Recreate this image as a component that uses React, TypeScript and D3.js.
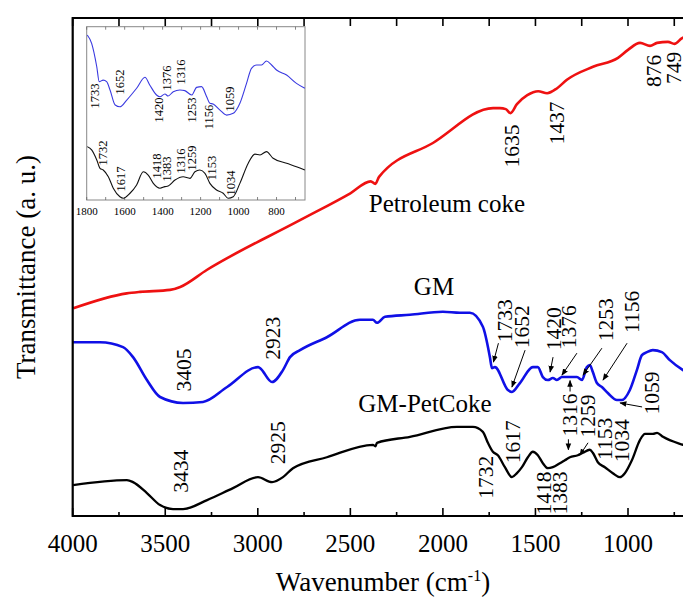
import React from "react";
import * as d3 from "d3";

// ---------- data (wavenumber cm-1, transmittance a.u.) ----------
const petcokeWn = [3997, 3708, 3636, 3474, 3419, 3276, 2772, 2500, 2390, 2365, 2345, 2054, 1729, 1692, 1660, 1635, 1600, 1544, 1485, 1437, 1383, 1330, 1189, 1054, 1000, 935, 881, 843, 784, 749, 706, 650];
const petcokeT = [41.7, 44.7, 45.0, 45.4, 46.0, 49.4, 59.4, 64.8, 67.2, 66.7, 68.1, 74.9, 81.9, 81.9, 81.7, 80.9, 82.7, 84.5, 85.3, 84.9, 85.9, 87.6, 90.2, 92.0, 93.6, 95.0, 94.4, 95.0, 95.2, 94.8, 96.0, 96.4];

const gmWn = [3998, 3853, 3728, 3674, 3599, 3528, 3404, 3296, 3166, 2999, 2988, 2923, 2864, 2826, 2772, 2627, 2448, 2378, 2356, 2313, 2178, 2000, 1908, 1854, 1784, 1746, 1735, 1719, 1649, 1627, 1584, 1514, 1487, 1460, 1433, 1406, 1384, 1357, 1314, 1276, 1249, 1222, 1206, 1190, 1168, 1141, 1109, 1060, 1033, 990, 952, 925, 898, 866, 817, 774, 703, 650];
const gmT = [34.9, 34.9, 33.9, 31.9, 27.3, 23.9, 22.7, 22.9, 25.9, 29.9, 29.7, 26.9, 29.3, 31.9, 33.3, 35.9, 39.4, 39.4, 38.8, 40.0, 40.4, 41.0, 40.8, 40.8, 38.0, 31.9, 29.7, 29.9, 25.3, 24.9, 26.7, 29.9, 29.9, 27.9, 27.3, 27.7, 27.3, 27.9, 27.9, 27.9, 27.3, 29.9, 30.3, 28.9, 26.7, 25.9, 24.7, 23.3, 23.3, 25.3, 29.3, 32.3, 32.9, 33.3, 32.9, 31.3, 29.3, 28.3];

const gmPcWn = [3998, 3707, 3674, 3599, 3528, 3458, 3404, 3274, 3134, 2999, 2923, 2864, 2810, 2627, 2378, 2365, 2356, 2178, 1924, 1838, 1784, 1757, 1730, 1703, 1665, 1627, 1600, 1573, 1541, 1514, 1487, 1460, 1433, 1406, 1368, 1341, 1314, 1271, 1244, 1206, 1190, 1163, 1125, 1082, 1044, 1017, 979, 935, 908, 865, 843, 811, 703, 650];
const gmPcT = [6.2, 7.2, 6.8, 4.6, 2.2, 1.4, 1.4, 3.2, 5.6, 7.8, 6.8, 7.8, 9.6, 11.8, 14.3, 14.0, 14.7, 15.9, 17.9, 17.9, 16.9, 14.7, 12.9, 12.2, 9.8, 7.8, 8.6, 9.8, 11.8, 12.9, 12.2, 10.6, 9.6, 9.8, 10.6, 11.2, 11.8, 12.2, 12.7, 13.3, 12.7, 10.8, 9.8, 8.6, 7.8, 8.6, 11.2, 15.3, 16.5, 16.5, 16.7, 15.9, 14.3, 13.7];

// inset (1800-650 cm-1)
const insetGmWn = [1797, 1774, 1747, 1734, 1713, 1695, 1677, 1650, 1625, 1589, 1537, 1493, 1468, 1432, 1414, 1388, 1371, 1344, 1309, 1283, 1247, 1221, 1195, 1168, 1151, 1134, 1098, 1063, 1028, 993, 958, 932, 905, 879, 853, 826, 800, 747, 695, 651];
const insetGmT = [95.2, 90.4, 76.9, 68.3, 69.2, 68.3, 63.5, 54.8, 53.8, 57.7, 64.5, 70.8, 66.4, 60.6, 59.6, 61.2, 60.0, 62.5, 63.5, 63.1, 60.6, 65.0, 65.4, 59.6, 55.8, 55.4, 51.9, 49.0, 50.0, 55.8, 67.3, 76.0, 77.9, 77.9, 80.2, 77.9, 75.0, 72.1, 67.3, 64.5];
const insetPcWn = [1797, 1774, 1747, 1730, 1713, 1686, 1660, 1625, 1607, 1572, 1537, 1502, 1476, 1449, 1414, 1388, 1371, 1335, 1292, 1256, 1230, 1204, 1177, 1151, 1116, 1081, 1055, 1028, 993, 949, 914, 887, 853, 818, 747, 695, 651];
const insetPcT = [30.8, 28.9, 23.1, 18.3, 17.3, 13.4, 6.8, 1.9, 1.0, 3.9, 8.7, 16.3, 14.4, 9.6, 6.8, 7.7, 8.1, 11.5, 13.4, 12.5, 16.3, 17.3, 15.4, 9.6, 5.8, 3.9, 1.0, 1.9, 9.6, 21.2, 26.5, 26.0, 27.9, 24.1, 21.2, 19.2, 17.3];

// tick values
const mainTickLabels = [4000, 3500, 3000, 2500, 2000, 1500, 1000];
const insetTickLabels = [1800, 1600, 1400, 1200, 1000, 800];

// peak labels: text, wavenumber position, transmittance position
const peakLabels: [string, number, number][] = [
  ["1635", 1624, 74.3], ["1437", 1384, 78.9], ["876", 862, 89.4], ["749", 753, 90.0],
  ["3405", 3398, 29.3], ["2923", 2918, 35.7], ["1733", 1665, 39.2], ["1652", 1573, 38.0],
  ["1420", 1400, 37.6], ["1376", 1319, 38.0], ["1253", 1119, 39.4], ["1156", 978, 41.0],
  ["1059", 870, 24.7],
  ["3434", 3415, 9.0], ["2925", 2891, 14.7], ["1732", 1767, 7.8], ["1617", 1621, 14.9],
  ["1418", 1454, 4.6], ["1383", 1368, 4.6], ["1316", 1313, 20.3], ["1259", 1216, 20.1],
  ["1153", 1124, 15.5], ["1034", 1032, 15.1],
];
// arrows: [wn from, T from, wn to, T to]
const peakArrows: [number, number, number, number][] = [
  [1700, 34.7, 1727, 30.9], [1556, 33.3, 1627, 25.9], [1405, 31.9, 1421, 28.9],
  [1276, 32.7, 1357, 28.3], [1141, 33.7, 1243, 28.3], [1005, 34.7, 1135, 27.3],
  [924, 21.9, 1043, 22.7], [1313, 25.0, 1313, 27.2], [1322, 15.4, 1322, 13.3],
  [1216, 14.7, 1260, 12.2],
];
const insetLabels: [string, number, number][] = [
  ["1733", 1756, 60.0], ["1652", 1625, 68.1], ["1420", 1419, 51.9], ["1376", 1377, 70.4],
  ["1316", 1305, 73.9], ["1253", 1247, 51.9], ["1156", 1156, 47.9], ["1059", 1046, 58.3],
  ["1732", 1716, 27.1], ["1617", 1621, 12.1], ["1418", 1432, 19.6], ["1383", 1376, 17.9],
  ["1316", 1305, 22.5], ["1259", 1247, 24.2], ["1153", 1142, 18.5], ["1034", 1042, 9.8],
];
const seriesNames: [string, number, number][] = [
  ["Petroleum coke", 1978, 61.0],
  ["GM", 2048, 44.4],
  ["GM-PetCoke", 2097, 20.9],
];

const W = 683, H = 601;
const FONT = "'Liberation Serif', 'Times New Roman', serif";

export default function App() {
  const L = 72.7, T = 18, B = 516;
  const x = d3.scaleLinear().domain([4000, 650]).range([L, L + 3350 * 0.1851]);
  const y = d3.scaleLinear().domain([0, 100]).range([B, T]);
  const ix = d3.scaleLinear().domain([1800, 650]).range([86.7, 305]);
  const iy = d3.scaleLinear().domain([0, 100]).range([200, 26.7]);

  const line = (wn: number[], t: number[], sx: any, sy: any) =>
    d3.line<number>().x((_, i) => sx(wn[i])).y((_, i) => sy(t[i])).curve(d3.curveMonotoneX)(wn.map((_, i) => i)) || "";

  const allTicks = d3.range(4000, 649, -250);
  const insetMinor = d3.range(1800, 649, -100);
  const xR = x.range()[1];

  return (
    <svg width={W} height={H} style={{ position: "absolute", left: 0, top: 0, background: "#fff" }} fontFamily={FONT}>
      <defs>
        <clipPath id="plot"><rect x={L} y={T} width={xR - L} height={B - T} /></clipPath>
        <marker id="ah" viewBox="0 0 10 10" refX="9" refY="5" markerWidth="7" markerHeight="7" orient="auto" markerUnits="userSpaceOnUse">
          <path d="M0,1 L10,5 L0,9 Z" fill="#000" />
        </marker>
      </defs>
      <rect x={0} y={0} width={W} height={H} fill="#fff" />

      {/* curves */}
      <g clipPath="url(#plot)" fill="none">
        <path d={line(petcokeWn, petcokeT, x, y)} stroke="#ee1111" strokeWidth={2.6} />
        <path d={line(gmWn, gmT, x, y)} stroke="#1010e6" strokeWidth={2.6} />
        <path d={line(gmPcWn, gmPcT, x, y)} stroke="#000" strokeWidth={2.3} />
      </g>

      {/* frame */}
      <path d={`M${xR},${T} H${L} V${B} H${xR}`} fill="none" stroke="#000" strokeWidth={2.2} />
      {allTicks.map((v) => {
        const major = v % 500 === 0;
        return (
          <g key={v}>
            <line x1={x(v)} x2={x(v)} y1={B} y2={B - (major ? 8 : 4)} stroke="#000" strokeWidth={1.6} />
            <line x1={x(v)} x2={x(v)} y1={T} y2={T + 8} stroke="#000" strokeWidth={1.6} />
          </g>
        );
      })}
      {mainTickLabels.map((v) => (
        <text key={v} x={x(v)} y={552} fontSize={25} textAnchor="middle">{v}</text>
      ))}
      <text x={383} y={591} fontSize={27} textAnchor="middle">
        Wavenumber (cm<tspan dy={-10} fontSize={16}>-1</tspan><tspan dy={10}>)</tspan>
      </text>
      <text transform={`translate(35,${(T + B) / 2}) rotate(-90)`} fontSize={27} textAnchor="middle">Transmittance (a. u.)</text>

      {/* peak labels */}
      {peakLabels.map(([t, wn, v], i) => (
        <text key={i} transform={`translate(${x(wn)},${y(v)}) rotate(-90)`} fontSize={21.5} textAnchor="middle" dominantBaseline="central">{t}</text>
      ))}
      {peakArrows.map(([w1, v1, w2, v2], i) => (
        <line key={i} x1={x(w1)} y1={y(v1)} x2={x(w2)} y2={y(v2)} stroke="#000" strokeWidth={1} markerEnd="url(#ah)" />
      ))}
      {seriesNames.map(([t, wn, v]) => (
        <text key={t} x={x(wn)} y={y(v)} fontSize={25} textAnchor="middle">{t}</text>
      ))}

      {/* inset */}
      <rect x={86.7} y={26.7} width={305 - 86.7} height={200 - 26.7} fill="#fff" stroke="#888" strokeWidth={1} />
      {insetMinor.map((v) => (
        <g key={v}>
          <line x1={ix(v)} x2={ix(v)} y1={200} y2={197} stroke="#666" strokeWidth={0.8} />
          <line x1={ix(v)} x2={ix(v)} y1={26.7} y2={29.7} stroke="#666" strokeWidth={0.8} />
        </g>
      ))}
      {insetTickLabels.map((v) => (
        <text key={v} x={ix(v)} y={215} fontSize={11} textAnchor="middle">{v}</text>
      ))}
      <g fill="none">
        <path d={line(insetGmWn, insetGmT, ix, iy)} stroke="#3a3ae0" strokeWidth={1.1} />
        <path d={line(insetPcWn, insetPcT, ix, iy)} stroke="#111" strokeWidth={1.1} />
      </g>
      {insetLabels.map(([t, wn, v], i) => (
        <text key={i} transform={`translate(${ix(wn)},${iy(v)}) rotate(-90)`} fontSize={12.5} textAnchor="middle" dominantBaseline="central">{t}</text>
      ))}
    </svg>
  );
}
